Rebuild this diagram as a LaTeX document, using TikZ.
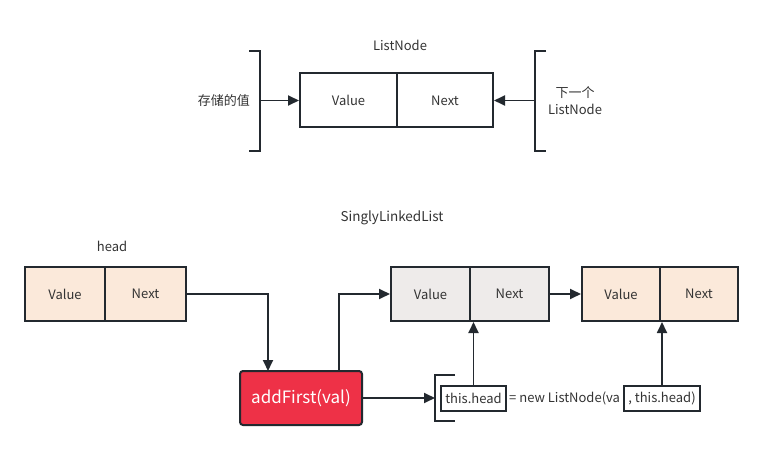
\documentclass[tikz,border=0pt]{standalone}
\usepackage{fontspec}
\setmainfont{Noto Sans CJK SC}
\usetikzlibrary{arrows.meta}
\definecolor{strk}{HTML}{23292F}
\definecolor{beige}{HTML}{FBE9DA}
\definecolor{grayf}{HTML}{EEEBEA}
\definecolor{redf}{HTML}{EE3147}
\definecolor{txt}{HTML}{333333}
\begin{document}
\begin{tikzpicture}[x=1pt,y=-1pt,
  cell/.style={draw=strk,line width=2pt,minimum height=54pt,inner sep=0pt,text=txt,font=\fontsize{13}{15}\selectfont},
  lbl/.style={text=txt,font=\fontsize{13}{15}\selectfont,inner sep=0pt},
  conn/.style={draw=strk,line width=1.8pt,-{Triangle[length=11pt,width=10pt]}},
  brk/.style={draw=strk,line width=2pt},
  codebox/.style={draw=strk,line width=2pt,fill=white,minimum height=25pt,inner sep=0pt,text=txt,font=\fontsize{13}{15}\selectfont}]
\useasboundingbox (0,0) rectangle (776,449);
% top ListNode
\node[lbl] (tln) at (400,45) {ListNode};
\node[cell,minimum width=97pt] (tv) at (348.5,100.5) {Value};
\node[cell,minimum width=96pt] (tn) at (445,100.5) {Next};
\draw[brk] (249,51) -- (260,51) -- (260,151) -- (249,151);
\coordinate (lb) at (260,100.5);
\draw[conn] (lb) -- (tv.west);
\node[lbl,anchor=east] (store) at (250,101) {存储的值};
\draw[brk] (546,51) -- (535,51) -- (535,151) -- (546,151);
\coordinate (rb) at (535,100.5);
\draw[conn] (rb) -- (tn.east);
\node[lbl,align=center,font=\fontsize{13}{17}\selectfont] (nxt) at (575,101) {下一个\\ListNode};
% bottom
\node[lbl,font=\fontsize{13.5}{15}\selectfont] (sll) at (392,218) {SinglyLinkedList};
\node[lbl] (hd) at (112,246) {head};
\node[cell,fill=beige,minimum width=80pt] (h1) at (65,294) {Value};
\node[cell,fill=beige,minimum width=81pt] (h2) at (145.5,294) {Next};
\node[cell,fill=grayf,minimum width=79pt] (b1) at (430.5,294) {Value};
\node[cell,fill=grayf,minimum width=79pt] (b2) at (509.5,294) {Next};
\node[cell,fill=beige,minimum width=78pt] (c1) at (621,294) {Value};
\node[cell,fill=beige,minimum width=78pt] (c2) at (699,294) {Next};
\node[draw=strk,line width=2pt,fill=redf,rounded corners=3pt,minimum width=122pt,minimum height=54pt,inner sep=0pt,text=white,font=\fontsize{17}{20}\selectfont] (af) at (301,398) {addFirst(val)};
\draw[conn] (h2.east) -- (268,294) -- (268,371);
\draw[conn] (339,371) -- (339,294) -- (b1.west);
\draw[conn] (b2.east) -- (c1.west);
% code line
\draw[brk] (455,375) -- (435,375) -- (435,421) -- (455,421);
\coordinate (cb) at (435,398);
\draw[conn] (af.east) -- (cb);
\node[codebox,minimum width=65pt] (th1) at (473.5,398) {this.head};
\node[lbl,anchor=west] (code) at (509,398) {= new ListNode(va};
\node[codebox,minimum width=76pt] (th2) at (662,398) {, this.head)};
\draw[conn] (th1.north) -- (th1.north |- b1.south);
\draw[conn] (th2.north) -- (th2.north |- c1.south);
\end{tikzpicture}
\end{document}
